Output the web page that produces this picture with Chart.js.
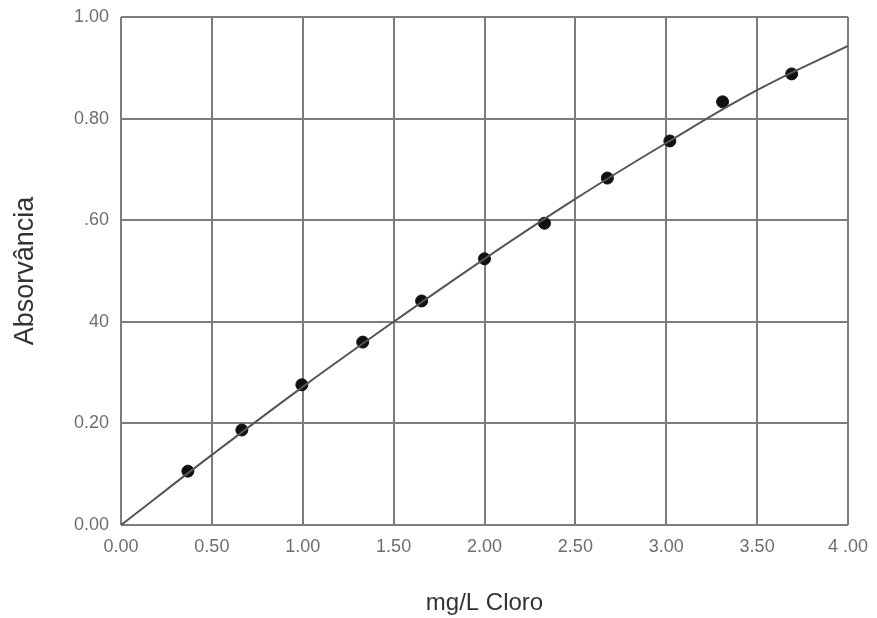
<!DOCTYPE html>
<html>
<head>
<meta charset="utf-8">
<script src="https://cdn.jsdelivr.net/npm/chart.js@4"></script>
<style>
  html, body { margin: 0; padding: 0; background: #fff; }
  #wrap { width: 877px; height: 618px; position: relative; }
</style>
</head>
<body>
<div id="wrap"><canvas id="calibChart"></canvas></div>
<script>
// measured standards
const pointX = [0.368, 0.665, 0.995, 1.33, 1.654, 2.0, 2.33, 2.676, 3.02, 3.31, 3.69];
const pointY = [0.106, 0.187, 0.276, 0.360, 0.441, 0.524, 0.594, 0.683, 0.756, 0.833, 0.888];

// fitted calibration curve
const curveX = [0, 0.5, 1.0, 1.5, 2.0, 2.5, 3.0, 3.5, 4.0];
const curveY = [0, 0.138, 0.272, 0.40, 0.524, 0.642, 0.752, 0.856, 0.943];

// tick labels as printed on the original
const xTickLabels = ['0.00', '0.50', '1.00', '1.50', '2.00', '2.50', '3.00', '3.50', '4 .00'];
const yTickLabels = ['0.00', '0.20', '40', '.60', '0.80', '1.00'];

const gridColor = '#7c7c7c';
const tickColor = '#6e6e6e';
const fontFamily = "'Liberation Sans', Arial, sans-serif";

const ctx = document.getElementById('calibChart');
new Chart(ctx, {
  type: 'scatter',
  data: {
    datasets: [
      {
        type: 'line',
        data: curveX.map((x, i) => ({ x, y: curveY[i] })),
        borderColor: '#555',
        borderWidth: 2,
        pointRadius: 0,
        tension: 0.4,
        fill: false,
      },
      {
        data: pointX.map((x, i) => ({ x, y: pointY[i] })),
        backgroundColor: '#111',
        borderColor: '#111',
        pointRadius: 6,
        pointHoverRadius: 6,
      },
    ],
  },
  options: {
    responsive: true,
    maintainAspectRatio: false,
    animation: false,
    layout: { padding: { top: 0, right: 0, left: 9, bottom: 0 } },
    plugins: { legend: { display: false }, tooltip: { enabled: false } },
    scales: {
      x: {
        type: 'linear',
        min: 0,
        max: 4,
        border: { display: false },
        grid: { color: gridColor, lineWidth: 2, drawTicks: false },
        afterFit: (scale) => {
          scale.height = 93;
          scale.paddingRight = 29;
        },
        ticks: {
          stepSize: 0.5,
          padding: 11,
          color: tickColor,
          font: { family: fontFamily, size: 18 },
          maxRotation: 0,
          callback: (v) => xTickLabels[Math.round(v * 2)],
        },
        title: {
          display: true,
          text: 'mg/L Cloro',
          color: '#333',
          font: { family: fontFamily, size: 24 },
          padding: { top: 22, bottom: 0 },
        },
      },
      y: {
        type: 'linear',
        min: 0,
        max: 1,
        border: { display: false },
        grid: { color: gridColor, lineWidth: 2, drawTicks: false },
        afterFit: (scale) => {
          scale.width = 112;
          scale.paddingTop = 17;
        },
        ticks: {
          stepSize: 0.2,
          padding: 12,
          color: tickColor,
          font: { family: fontFamily, size: 18 },
          callback: (v) => yTickLabels[Math.round(v * 5)],
        },
        title: {
          display: true,
          text: 'Absorvância',
          color: '#333',
          font: { family: fontFamily, size: 27 },
          padding: { top: 0, bottom: 24 },
        },
      },
    },
  },
});
</script>
</body>
</html>
